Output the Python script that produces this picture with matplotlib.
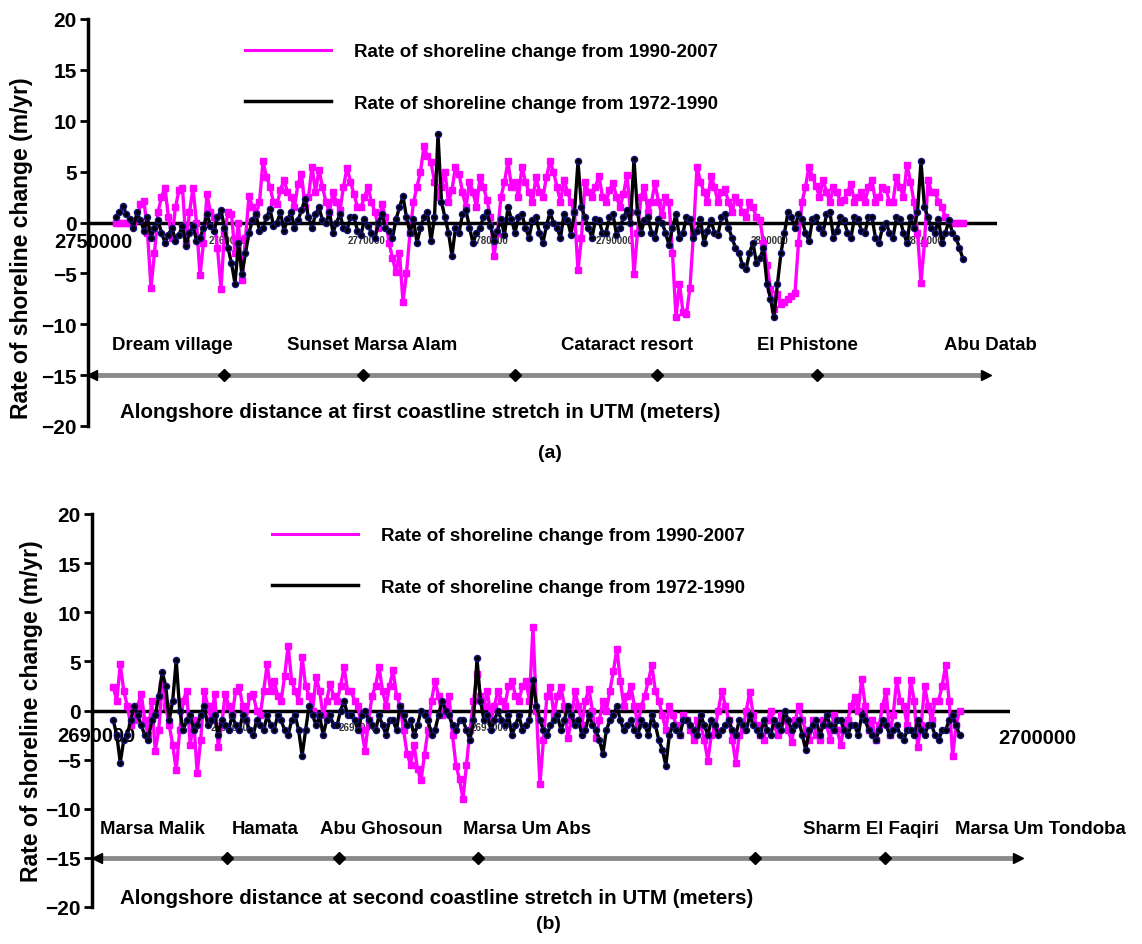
import numpy as np
import matplotlib
matplotlib.use("Agg")
import matplotlib.pyplot as plt

plt.rcParams['font.family'] = ['Liberation Sans', 'DejaVu Sans']

MAG = '#ff00ff'
BLK = '#000000'

# ---------------- panel (a): first coastline stretch ----------------
# transects every 250 m along the coast (UTM northing)
xa = 2752000 + 250 * np.arange(243)
rate_a_1990_2007 = [
    0, 0, 0, 0, 0, 0, 0.2, 1.8, 2.1, -1.0,
    -6.4, -3.0, 1.0, 2.5, 3.4, 0.5, -1.5, 1.5, 3.2, 3.4,
    -2.0, 1.0, 3.4, 0.0, -5.2, -2.0, 2.8, 1.0, 0.5, -2.5,
    -6.5, -1.0, 1.0, 0.8, -3.0, 0.0, -5.7, -1.5, 2.6, 1.5,
    0.8, 2.0, 6.0, 4.5, 3.5, 2.0, 1.8, 3.2, 4.2, 3.0,
    2.5, 1.5, 3.8, 4.8, 1.5, 2.5, 5.5, 3.0, 5.2, 3.5,
    2.0, 1.0, 3.0, 2.0, 1.2, 3.5, 5.4, 4.0, 2.8, 1.5,
    1.5, 2.5, 3.5, 2.0, 1.0, -0.5, 1.8, 0.5, -2.0, -3.5,
    -4.9, -3.0, -7.8, -5.0, -1.0, 2.0, 3.5, 5.0, 7.5, 6.5,
    5.9, 4.0, 2.5, 3.5, 5.0, 2.0, 3.2, 5.5, 4.8, 3.0,
    1.5, 4.0, 3.0, 1.5, 4.5, 3.5, 2.2, 0.5, -3.3, -1.0,
    2.5, 4.0, 6.0, 3.5, 4.0, 2.5, 5.5, 4.0, 3.0, 2.0,
    4.5, 3.0, 2.5, 4.5, 6.0, 5.0, 3.5, 2.0, 4.2, 3.0,
    2.0, 1.0, -4.7, -1.5, 4.0, 3.0, 2.5, 3.5, 4.6, 2.5,
    2.0, 3.2, 3.9, 2.5, 1.5, 2.8, 4.7, 1.0, -5.1, -1.0,
    2.5, 3.5, 1.0, 2.0, 3.9, 2.0, 0.7, 2.5, 2.0, -3.0,
    -9.3, -6.0, -8.8, -9.0, -6.4, -1.0, 5.5, 4.0, 3.0, 2.0,
    4.6, 3.5, 2.0, 3.0, 3.3, 2.0, 1.0, 2.5, 2.0, 1.0,
    0.5, 2.0, 1.5, 0.5, 0.2, -2.0, -4.2, -6.5, -8.5, -7.0,
    -8.0, -7.8, -7.5, -7.2, -6.9, -2.0, 2.0, 3.5, 5.5, 4.5,
    3.6, 2.5, 4.2, 3.0, 2.0, 3.5, 3.0, 2.0, 2.2, 3.0,
    3.8, 2.0, 2.5, 3.0, 2.0, 3.5, 4.2, 2.0, 2.5, 3.5,
    3.3, 2.0, 2.0, 4.5, 3.5, 2.5, 5.7, 4.0, 2.0, -1.0,
    -5.9, -2.0, 4.2, 3.0, 3.0, 2.0, 1.5, 0.5, 0, 0,
    0, 0, 0]
rate_a_1972_1990 = [
    0.5, 1.0, 1.6, 0.8, 0.3, -0.5, 1.0, 0.2, -0.8, 0.5,
    -1.5, -0.5, 0.2, -1.0, -2.0, -1.2, -0.5, -1.8, -1.2, -0.3,
    -2.3, -1.0, -0.3, -1.8, -1.5, -0.5, 0.8, -0.3, -0.8, 0.5,
    1.2, -0.5, -2.5, -4.0, -6.0, -2.0, -5.1, -3.0, -1.0, 0.2,
    0.8, -0.8, -0.5, 0.5, 1.3, -0.3, 0.0, 1.0, -0.8, 0.3,
    1.0, -0.5, 0.2, 1.2, 2.3, 0.5, -0.5, 0.8, 1.5, 0.2,
    0.0, 1.0, -1.0, 0.0, 0.8, -0.5, -0.7, 0.5, 0.5, -0.8,
    -1.2, 0.3, -0.3, -1.0, -1.5, 0.0, 0.8, -0.5, -0.8, -1.5,
    0.3, 1.5, 2.6, 0.5, -1.0, 0.3, -2.0, -0.5, 0.5, 1.0,
    -1.8, 0.5, 8.7, 2.0, 0.5, -1.0, -3.3, -0.5, -1.0, 0.8,
    1.2, -0.5, -2.0, -1.0, -0.5, 0.5, 1.0, -0.3, -1.8, -0.8,
    0.3, -1.2, 1.5, 0.3, -1.0, 0.5, 0.8, -0.5, -1.5, 0.2,
    0.5, -1.0, -2.0, -0.3, 1.0, 0.0, -0.5, -1.5, 0.8, 0.2,
    -1.2, 1.0, 6.0, 1.5, 0.5, -0.5, -1.5, 0.3, 0.2, -1.0,
    -1.0, 0.5, 0.8, -1.2, -0.5, 0.5, 1.2, 0.0, 6.2, 1.0,
    -1.0, 0.2, 0.5, -1.0, -1.5, 0.3, 0.0, -1.0, -2.2, -0.5,
    0.8, -1.5, -1.0, 0.5, 0.3, -1.5, -0.8, 0.3, -2.0, -0.8,
    0.2, -1.0, -1.2, 0.5, 0.8, -0.5, -1.5, -2.5, -3.0, -4.2,
    -4.6, -3.0, -2.0, -4.0, -3.5, -2.5, -6.0, -7.5, -9.3, -6.0,
    -3.0, -1.0, 1.0, 0.5, -0.5, 0.8, 0.3, -1.0, -1.8, 0.3,
    0.5, -0.5, -1.0, 0.8, 1.0, -1.5, -0.8, 0.5, 0.2, -1.0,
    -1.5, 0.5, 0.3, -0.8, -1.0, 0.5, 0.5, -1.5, -2.0, -0.5,
    0.0, -1.0, -1.5, 0.5, 0.3, -1.0, -2.0, 0.5, -0.5, 1.0,
    6.0, 1.5, 0.5, -0.5, -1.0, 0.3, -2.0, -1.0, 0.2, -1.0,
    -1.5, -2.5, -3.6]
places_a = ['Dream village', 'Sunset Marsa Alam', 'Cataract resort', 'El Phistone', 'Abu Datab']
places_a_x = [2751714, 2764214, 2783786, 2797786, 2811143]
marks_a_x = [2759714, 2769643, 2780500, 2790643, 2802071]
arrow_a = [2750286, 2814143]
utm_a_x = [2760000, 2769929, 2778714, 2787643, 2798714, 2809786]
utm_a_lab = ['2760000', '2770000', '2780000', '2790000', '2800000', '2810000']

# ---------------- panel (b): second coastline stretch ----------------
xb = 2690225 + 37 * np.arange(243)
rate_b_1990_2007 = [
    2.4, 1.0, 4.7, 2.0, 0.5, -1.5, -1.0, 0.5, 1.7, -1.0,
    -2.5, 1.0, -4.1, -2.0, 2.7, 0.5, -1.5, -3.5, -6.1, -2.0,
    1.0, 2.0, -3.5, -1.0, -6.4, -3.0, 2.0, 0.5, -1.0, 1.7,
    -3.7, -1.5, 1.7, 0.5, -0.5, 2.0, 2.4, 0.5, -1.0, 1.5,
    1.7, 0.0, -0.5, 2.0, 4.7, 2.0, 3.0, 1.5, 1.0, 3.5,
    6.6, 3.0, 2.0, 1.0, 5.4, 2.5, 1.5, 0.0, 3.4, 2.0,
    -0.5, 1.0, 2.7, 1.5, 1.0, 2.5, 4.4, 2.0, 2.0, 1.0,
    0.5, -2.0, -4.1, -1.0, 1.5, 2.5, 4.4, 2.0, 0.5, 2.5,
    4.1, 1.5, 0.5, -2.0, -4.4, -5.5, -3.5, -6.0, -7.1, -4.5,
    -2.0, 1.0, 3.0, 1.5, -0.5, 0.5, 1.5, -2.5, -5.6, -7.0,
    -9.0, -5.5, -2.0, 1.0, 3.7, 1.5, 0.5, 2.0, -1.0, 0.5,
    2.0, 1.0, 0.5, 2.5, 3.0, 1.5, 1.0, 2.5, 3.0, 1.0,
    8.5, 0.0, -7.5, -3.0, 1.5, 2.4, -0.5, 1.5, 2.4, 0.5,
    -2.8, -1.0, 2.0, 0.5, -1.5, 1.0, 2.2, 0.0, -2.8, -1.0,
    1.0, 0.0, 2.0, 4.0, 6.3, 3.0, 0.5, 1.5, 2.5, 0.5,
    -1.5, 0.5, 1.5, 3.0, 4.6, 2.0, 1.0, -0.5, -2.0, 0.5,
    -0.5, -1.5, -2.5, -0.5, -1.0, -2.0, -3.0, -1.0, -1.5, -3.0,
    -5.1, -2.5, -2.0, 0.0, 2.0, 0.5, -1.0, -3.0, -5.3, -2.5,
    -2.0, 0.0, 1.9, -0.5, -1.5, -2.5, -3.0, -1.0, 0.0, -1.5,
    -2.5, -0.5, -1.0, -2.0, -3.2, -1.0, 0.5, -1.0, -2.0, -3.0,
    -1.0, -2.5, -3.0, -1.0, -1.5, -3.0, -0.5, -2.0, -3.5, -1.5,
    -1.0, 0.5, 1.4, 0.0, 3.2, 0.5, -2.0, -1.0, -3.0, -1.5,
    0.5, 2.0, -2.5, -0.5, 3.1, 1.0, 0.5, -1.5, 3.1, 1.0,
    -3.7, -1.5, 2.5, 0.5, -1.0, 1.0, 1.0, 2.5, 4.6, 1.0,
    -4.6, -1.5, 0.0]
rate_b_1972_1990 = [
    -1.0, -2.5, -5.3, -3.0, -2.5, -1.0, 0.5, -0.5, -1.5, -2.5,
    -3.0, -1.0, -0.5, 1.5, 3.9, 2.5, -1.0, 1.0, 5.1, 0.0,
    -2.0, -1.0, -0.5, -2.0, -1.5, -0.5, 0.5, -1.5, -1.0, -0.5,
    -2.5, -1.0, -1.5, -2.0, -0.5, -1.5, -2.0, -0.5, -1.0, -2.0,
    -2.5, -1.0, -1.5, -2.0, -0.5, -1.5, -2.0, -0.5, -1.0, -2.0,
    -2.5, -1.0, -0.5, -2.0, -4.6, -2.0, 0.5, -0.5, -1.5, -0.5,
    -2.5, -1.0, -0.5, -1.5, -1.5, 0.0, 1.0, -0.5, -0.5, -1.0,
    -2.0, -0.5, 0.0, -1.0, -1.5, -2.0, -0.5, -1.5, -2.5, -1.0,
    -1.0, -2.0, 0.5, -0.5, -1.5, -1.0, -2.5, -1.5, 0.0, -0.5,
    -1.0, -2.5, -2.0, -0.5, 1.0, 0.0, -0.5, -1.5, -2.0, -1.0,
    -1.0, -2.0, -3.0, -1.0, 5.3, 1.0, -1.0, -0.5, -2.0, -1.0,
    0.0, -1.0, -1.5, -0.5, -2.5, -1.5, -0.5, -2.0, -1.5, -1.0,
    3.1, 0.5, -1.0, -2.0, -2.5, -1.5, -1.0, -0.5, -2.0, -1.0,
    0.5, -0.5, -1.5, -1.0, -2.5, -2.0, -0.5, -1.5, -2.0, -3.0,
    -4.4, -2.0, -1.0, -0.5, 0.5, -1.0, -2.0, -1.5, -1.0, -2.0,
    -2.5, -1.0, -1.5, -2.5, -0.5, -1.5, -3.0, -4.0, -5.6, -2.5,
    -1.5, -2.0, -2.5, -1.0, -1.0, -1.5, -2.0, -2.5, -0.5, -1.5,
    -2.5, -1.0, -1.5, -2.5, -2.0, -1.5, -1.0, -2.0, -2.5, -1.0,
    -1.5, -2.0, -0.5, -1.5, -2.0, -2.5, -1.0, -2.0, -2.5, -1.0,
    -1.5, -2.0, 0.0, -1.0, -2.0, -1.5, -1.0, -2.5, -4.0, -2.0,
    -1.5, -1.0, -2.5, -1.5, -0.5, -1.5, -2.0, -1.0, -1.0, -2.0,
    -2.5, -1.5, -1.5, -2.5, -0.5, -1.0, -2.0, -2.5, -3.0, -2.0,
    -1.0, -1.5, -2.5, -2.0, -1.5, -2.5, -3.0, -2.0, -2.0, -2.5,
    -1.0, -2.0, -2.5, -1.5, -1.5, -2.5, -3.0, -2.0, -2.0, -1.0,
    -0.5, -1.5, -2.5]
places_b = ['Marsa Malik', 'Hamata', 'Abu Ghosoun', 'Marsa Um Abs', 'Sharm El Faqiri', 'Marsa Um Tondoba']
places_b_x = [2690085, 2691481, 2692412, 2693925, 2697522, 2699131]
marks_b_x = [2691428, 2692613, 2694084, 2697015, 2698390]
arrow_b = [2690053, 2699797]
utm_b_x = [2691460, 2692814, 2694211]
utm_b_lab = ['2691000', '2692000', '2693000']

LEG = ['Rate of shoreline change from 1990-2007', 'Rate of shoreline change from 1972-1990']

for s in (rate_a_1990_2007, rate_a_1972_1990, rate_b_1990_2007, rate_b_1972_1990):
    assert len(s) == 243, len(s)

W, H = 1142, 945
fig = plt.figure(figsize=(W / 100, H / 100), dpi=100)


def panel(rect, x, mag, blk, xlim, places, places_x, marks_x, arrow, utm_x, utm_lab,
          first_lab, last_lab, xtitle, title_x, title_y, leg_xy, ylab_xy):
    ax = fig.add_axes([rect[0] / W, 1 - rect[3] / H, (rect[2] - rect[0]) / W, (rect[3] - rect[1]) / H])
    ax.set_xlim(*xlim)
    ax.set_ylim(-20, 20)
    for s in ['top', 'right', 'bottom']:
        ax.spines[s].set_visible(False)
    ax.spines['left'].set_linewidth(2.5)
    ax.set_yticks(np.arange(-20, 21, 5))
    ax.set_xticks([])
    ax.tick_params(axis='y', direction='out', length=6, width=2, labelsize=15, pad=2)
    for t in ax.get_yticklabels():
        t.set_fontweight('bold')
    ax.set_ylabel('Rate of shoreline change (m/yr)', fontsize=16.5, fontweight='bold')
    ax.yaxis.set_label_coords(*ylab_xy)

    # zero line with small UTM labels under it
    ax.axhline(0, color='black', lw=2.5, zorder=2)
    for ux, ul in zip(utm_x, utm_lab):
        ax.text(ux, -1.7, ul, fontsize=7, fontweight='bold', color='#333333',
                ha='center', va='center', zorder=1)
    ax.text(first_lab[0], first_lab[1], first_lab[2], fontsize=14.5, fontweight='bold',
            ha='center', va='center', zorder=1, clip_on=False)
    if last_lab:
        ax.text(last_lab[0], last_lab[1], last_lab[2], fontsize=14.5, fontweight='bold',
                ha='center', va='center', zorder=1, clip_on=False)

    ax.plot(x, mag, color=MAG, lw=2.4, marker='s', ms=4.0, mec=MAG, mfc=MAG, zorder=3)
    ax.plot(x, blk, color=BLK, lw=2.4, marker='o', ms=4.4, mec='#14147a', mfc=BLK, mew=1.0, zorder=4)

    # alongshore arrow with site markers
    ax.plot(arrow, [-15, -15], color='#8a8a8a', lw=3.5, solid_capstyle='butt', clip_on=False, zorder=2)
    ax.plot(marks_x, [-15] * len(marks_x), ls='none', marker='D', ms=6, color='black', clip_on=False, zorder=3)
    ax.plot([arrow[0]], [-15], marker='<', ms=7, color='black', ls='none', clip_on=False, zorder=3)
    ax.plot([arrow[1]], [-15], marker='>', ms=7, color='black', ls='none', clip_on=False, zorder=3)
    for p, px in zip(places, places_x):
        ax.text(px, -12, p, fontsize=13.4, fontweight='bold', ha='left', va='center', clip_on=False)
    ax.text(title_x, title_y, xtitle, fontsize=14.8, fontweight='bold',
            ha='left', va='center', clip_on=False)

    # legend drawn as proxy lines
    h1, = ax.plot([], [], color=MAG, lw=2.2)
    h2, = ax.plot([], [], color='black', lw=2.5)
    ax.legend([h1, h2], LEG, loc='upper left', bbox_to_anchor=(leg_xy[0] / W, 1 - leg_xy[1] / H),
              bbox_transform=fig.transFigure, frameon=False, borderpad=0, borderaxespad=0,
              handlelength=4.6, handletextpad=1.2, labelspacing=1.85,
              prop={'size': 13.5, 'weight': 'bold'})
    return ax


panel((88, 20, 997, 427), xa, rate_a_1990_2007, rate_a_1972_1990,
      (2750000, 2814930), places_a, places_a_x, marks_a_x, arrow_a, utm_a_x, utm_a_lab,
      (2750357, -1.9, '2750000'), None,
      'Alongshore distance at first coastline stretch in UTM (meters)', 2752286, -18.6,
      (245, 44), (-0.0605, 0.44))
panel((92, 515, 1010, 908), xb, rate_b_1990_2007, rate_b_1972_1990,
      (2690000, 2699712), places_b, places_b_x, marks_b_x, arrow_b, utm_b_x, utm_b_lab,
      (2690042, -2.5, '2690000'), (2700000, -2.7, '2700000'),
      'Alongshore distance at second coastline stretch in UTM (meters)', 2690296, -19.0,
      (272, 528), (-0.0534, 0.5))

fig.text(550 / W, 1 - 453 / H, '(a)', fontsize=14, fontweight='bold', ha='center', va='center')
fig.text(548 / W, 1 - 925 / H, '(b)', fontsize=14, fontweight='bold', ha='center', va='center')

fig.savefig('out.png', dpi=100)
